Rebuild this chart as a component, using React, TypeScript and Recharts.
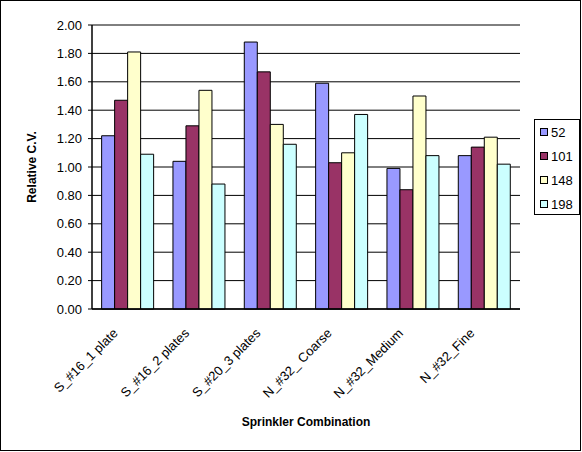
import { BarChart, Bar, XAxis, YAxis, CartesianGrid } from 'recharts';

// Sprinkler combinations on the category axis
const combinations = [
  'S_#16_1 plate',
  'S_#16_2 plates',
  'S_#20_3 plates',
  'N_#32_ Coarse',
  'N_#32_Medium',
  'N_#32_Fine',
];

// Relative C.V. per series (one value per combination)
const cv52 = [1.22, 1.04, 1.88, 1.59, 0.99, 1.08];
const cv101 = [1.47, 1.29, 1.67, 1.03, 0.84, 1.14];
const cv148 = [1.81, 1.54, 1.3, 1.1, 1.5, 1.21];
const cv198 = [1.09, 0.88, 1.16, 1.37, 1.08, 1.02];

const yTicks = [0, 0.2, 0.4, 0.6, 0.8, 1.0, 1.2, 1.4, 1.6, 1.8, 2.0];

const series = [
  { key: 's52', name: '52', values: cv52, color: '#9999ff' },
  { key: 's101', name: '101', values: cv101, color: '#993366' },
  { key: 's148', name: '148', values: cv148, color: '#ffffcc' },
  { key: 's198', name: '198', values: cv198, color: '#ccffff' },
];

const FONT = '"Liberation Sans", Arial, sans-serif';

const data = combinations.map((name, i) => {
  const row: Record<string, string | number> = { name };
  series.forEach((s) => {
    row[s.key] = s.values[i];
  });
  return row;
});

/** Slanted category label, anchored at its end like the spreadsheet original. */
function CategoryTick({ x, y, payload }: { x?: number; y?: number; payload?: { value: string } }) {
  const ax = (x ?? 0) - 9;
  const ay = (y ?? 0) + 25;
  return (
    <text
      x={ax}
      y={ay}
      transform={`rotate(-45, ${ax}, ${ay})`}
      textAnchor="end"
      fontSize={13}
      fontFamily={FONT}
      fill="#000"
    >
      {payload?.value}
    </text>
  );
}

function YTitle({ viewBox }: { viewBox?: { x: number; y: number; width: number; height: number } }) {
  if (!viewBox) return null;
  const cx = viewBox.x + 32;
  const cy = viewBox.y + viewBox.height / 2;
  return (
    <text
      x={cx}
      y={cy}
      transform={`rotate(-90, ${cx}, ${cy})`}
      textAnchor="middle"
      dominantBaseline="central"
      fontSize={12}
      fontWeight="bold"
      fontFamily={FONT}
      fill="#000"
    >
      Relative C.V.
    </text>
  );
}

function XTitle({ viewBox }: { viewBox?: { x: number; y: number; width: number; height: number } }) {
  if (!viewBox) return null;
  return (
    <text
      x={viewBox.x + viewBox.width / 2}
      y={viewBox.y + 113}
      textAnchor="middle"
      dominantBaseline="central"
      fontSize={12}
      fontWeight="bold"
      fontFamily={FONT}
      fill="#000"
    >
      Sprinkler Combination
    </text>
  );
}

function LegendBox() {
  return (
    <div
      style={{
        position: 'absolute',
        left: 533,
        top: 118,
        width: 46,
        height: 96,
        boxSizing: 'border-box',
        border: '1px solid #000',
        background: '#fff',
        fontFamily: FONT,
        fontSize: 13,
      }}
    >
      {series.map((s) => (
        <div key={s.key} style={{ display: 'flex', alignItems: 'center', height: 24 }}>
          <span
            style={{
              display: 'inline-block',
              width: 6,
              height: 6,
              marginLeft: 5,
              marginRight: 3,
              border: '1px solid #000',
              background: s.color,
            }}
          />
          <span>{s.name}</span>
        </div>
      ))}
    </div>
  );
}

export default function App() {
  return (
    <div
      style={{
        position: 'absolute',
        left: 0,
        top: 0,
        width: 581,
        height: 451,
        boxSizing: 'border-box',
        border: '1px solid #000',
        background: '#fff',
      }}
    >
      <div style={{ position: 'absolute', left: -1, top: -1 }}>
        <BarChart
          width={582}
          height={452}
          data={data}
          margin={{ top: 25, right: 62, left: 0, bottom: 0 }}
          barCategoryGap="13.5%"
          barGap={0}
        >
          <CartesianGrid vertical={false} stroke="#000" />
          <XAxis
            dataKey="name"
            height={143}
            interval={0}
            tickLine={false}
            tickSize={0}
            tickMargin={0}
            axisLine={{ stroke: '#000', strokeWidth: 1.5 }}
            tick={<CategoryTick />}
            label={<XTitle />}
          />
          <XAxis
            xAxisId="top"
            dataKey="name"
            orientation="top"
            height={0}
            tick={false}
            tickLine={false}
            axisLine={{ stroke: '#000', strokeWidth: 2 }}
          />
          <YAxis
            width={92}
            domain={[0, 2]}
            ticks={yTicks}
            interval={0}
            tickSize={4}
            tickMargin={6}
            tickLine={{ stroke: '#000' }}
            axisLine={{ stroke: '#000', strokeWidth: 1.5 }}
            tickFormatter={(v: number) => v.toFixed(2)}
            tick={{ fill: '#000', fontSize: 13, fontFamily: FONT }}
            label={<YTitle />}
          />
          <YAxis
            yAxisId="right"
            orientation="right"
            width={0}
            domain={[0, 2]}
            tick={false}
            tickLine={false}
            axisLine={{ stroke: '#000', strokeWidth: 2 }}
          />
          {series.map((s) => (
            <Bar
              key={s.key}
              dataKey={s.key}
              name={s.name}
              fill={s.color}
              stroke="#000"
              strokeWidth={1}
              isAnimationActive={false}
            />
          ))}
        </BarChart>
      </div>
      <LegendBox />
    </div>
  );
}
